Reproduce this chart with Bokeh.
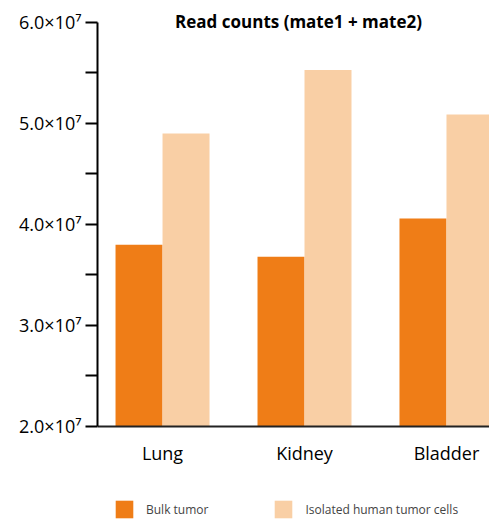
import numpy as np
from bokeh.plotting import figure
from bokeh.models import ColumnDataSource, Range1d, FixedTicker, Legend, LegendItem, Label
from bokeh.transform import dodge
from bokeh.embed import file_html
from bokeh.resources import INLINE

categories = ["Lung", "Kidney", "Bladder"]
bulk_tumor = [3.80e7, 3.68e7, 4.06e7]
isolated_cells = [4.90e7, 5.53e7, 5.09e7]
y_ticks = [2.0e7, 3.0e7, 4.0e7, 5.0e7, 6.0e7]
y_tick_labels = ["2.0×10⁷", "3.0×10⁷", "4.0×10⁷", "5.0×10⁷", "6.0×10⁷"]
series_names = ["Bulk tumor", "Isolated human tumor cells"]
colors = ["#EF7D17", "#F9CFA5"]

FONT = "Open Sans"

src = ColumnDataSource(dict(
    x=np.arange(len(categories)),
    bulk=bulk_tumor,
    iso=isolated_cells,
))

p = figure(width=489, height=521,
           min_border_left=97, min_border_right=0, min_border_top=0, min_border_bottom=0,
           x_range=Range1d(-0.458, 2.303), y_range=Range1d(1.0594e7, 6.2178e7),
           output_backend="svg", toolbar_location=None)

bw = 0.331
r1 = p.vbar(x=dodge("x", -bw / 2, range=p.x_range), top="bulk", bottom=y_ticks[0], width=bw,
            source=src, fill_color=colors[0], line_color=None)
r2 = p.vbar(x=dodge("x", bw / 2, range=p.x_range), top="iso", bottom=y_ticks[0], width=bw,
            source=src, fill_color=colors[1], line_color=None)

p.grid.visible = False
p.outline_line_color = None

# y axis
ya = p.yaxis[0]
ya.bounds = (y_ticks[0], y_ticks[-1])
ya.ticker = FixedTicker(ticks=y_ticks, minor_ticks=[2.5e7, 3.5e7, 4.5e7, 5.5e7])
ya.major_label_overrides = {t: l for t, l in zip(y_ticks, y_tick_labels)}
ya.major_tick_in = 0
ya.major_tick_out = 12
ya.minor_tick_in = 0
ya.minor_tick_out = 12
ya.axis_line_width = 2
ya.major_tick_line_width = 2
ya.minor_tick_line_width = 2
ya.major_label_text_font = FONT
ya.major_label_text_font_size = "18px"
ya.major_label_text_color = "black"
ya.major_label_standoff = 4

# x axis, drawn at the base of the bars
xa = p.xaxis[0]
xa.fixed_location = y_ticks[0]
xa.ticker = FixedTicker(ticks=list(range(len(categories))))
xa.major_label_overrides = {i: c for i, c in enumerate(categories)}
xa.major_tick_line_color = None
xa.minor_tick_line_color = None
xa.axis_line_width = 2
xa.axis_line_color = "#222222"
xa.major_label_text_font = FONT
xa.major_label_text_font_size = "18px"
xa.major_label_text_color = "black"
xa.major_label_standoff = 9

title = Label(x=201, y=500, x_units="screen", y_units="screen",
              text="Read counts (mate1 + mate2)", text_font=FONT, text_font_style="bold",
              text_font_size="17px", text_align="center", text_baseline="middle",
              text_color="black")
p.add_layout(title)

legend = Legend(items=[LegendItem(label=series_names[0], renderers=[r1]),
                       LegendItem(label=series_names[1], renderers=[r2])],
                orientation="horizontal", location=(16, 1), padding=0, margin=0,
                border_line_color=None, background_fill_alpha=0,
                glyph_width=22, glyph_height=22, label_standoff=11, spacing=64,
                label_text_font=FONT, label_text_font_size="12px")
p.add_layout(legend, "center")

open("out.html", "w").write(file_html(p, INLINE))
